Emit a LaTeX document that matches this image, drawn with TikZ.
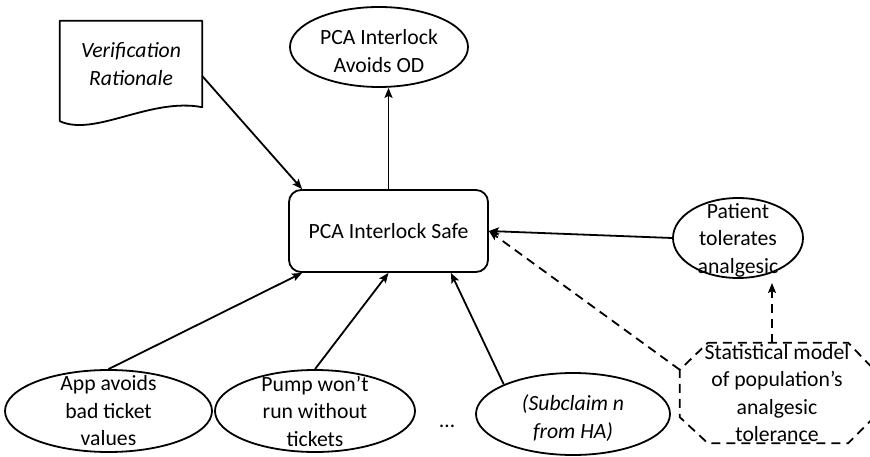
\documentclass[tikz,border=0pt]{standalone}
\usepackage{fontspec}
\setmainfont{Carlito}
\usetikzlibrary{shapes.geometric,arrows.meta}

\tikzset{
  base/.style={line width=1.8pt, line join=round},
  txt/.style={font=\fontsize{21.7}{27.5}\selectfont, align=center, inner sep=0pt},
  ell/.style={base, draw, ellipse, inner sep=0pt},
  claimbox/.style={base, draw, rounded corners=12pt, inner sep=0pt},
  arr/.style={base, -{Stealth[length=10pt,width=8pt,inset=2pt]}},
  dasharr/.style={arr, dash pattern=on 9pt off 6pt},
}

\begin{document}
\begin{tikzpicture}[x=1pt, y=-1pt]
  \useasboundingbox (0,0) rectangle (870,457);
  \clip (0,0) rectangle (870,457);

  % central claim
  \node[claimbox, txt, minimum width=199pt, minimum height=82pt] (safe) at (388.5,231) {PCA Interlock Safe};

  % top goal
  \node[ell, minimum width=178pt, minimum height=80pt,
        label={[txt, yshift=-4pt]center:PCA Interlock\\Avoids OD}] (od) at (379,47) {};

  % document: verification rationale
  \node[txt, font=\fontsize{21.7}{27.5}\selectfont\itshape, minimum width=142pt, minimum height=86pt] (vr) at (131,64) {Verification\\Rationale};
  \draw[base] (vr.north west) -- (vr.north east) -- (vr.south east)
    .. controls ([xshift=-52pt,yshift=10pt]vr.south east) and ([xshift=35pt,yshift=-30pt]vr.south west) ..
    ([yshift=-14pt]vr.south west) -- cycle;

  % patient assumption
  \node[ell, minimum width=130pt, minimum height=80pt,
        label={[txt, yshift=-2pt]center:Patient\\tolerates\\analgesic}] (pat) at (738,238) {};

  % statistical model (dashed octagon)
  \node[txt, minimum width=194pt, minimum height=100pt] (stat) at (777,393)
    {Statistical model\\of population’s\\analgesic\\tolerance};
  \draw[base, dash pattern=on 9pt off 6pt]
    ([xshift=28pt]stat.north west) -- ([xshift=-26pt]stat.north east) --
    ([yshift=-27pt]stat.north east) -- ([yshift=26pt]stat.south east) --
    ([xshift=-26pt]stat.south east) -- ([xshift=28pt]stat.south west) --
    ([yshift=26pt]stat.south west) -- ([yshift=-27pt]stat.north west) -- cycle;

  % subclaims
  \node[ell, minimum width=207pt, minimum height=82pt,
        label={[txt]center:App avoids\\bad ticket\\values}] (app) at (108.5,411) {};
  \node[ell, minimum width=200pt, minimum height=82pt,
        label={[txt]center:Pump won’t\\run without\\tickets}] (pump) at (315,411) {};
  \node[txt, anchor=base] (dots) at (447,427) {…};
  \node[ell, minimum width=194pt, minimum height=82pt,
        label={[txt, yshift=-4pt, font=\fontsize{21.7}{27.5}\selectfont\itshape]center:(Subclaim n\\from HA)}] (sub) at (573,414) {};

  % connectors
  \draw[arr] (safe.north) -- (safe.north |- od.south);
  \draw[arr] ([yshift=-12pt]vr.east) -- ([xshift=14pt]safe.north west);
  \draw[arr] (pat.west) -- (safe.east);
  \draw[dasharr] ([yshift=-27pt]stat.north west) -- (safe.east);
  \coordinate (statTop) at ([xshift=-5pt]stat.north);
  \coordinate (patFoot) at (772,283);
  \draw[dasharr] (statTop) -- (patFoot);
  \draw[arr] (app.north) -- ([xshift=14pt]safe.south west);
  \draw[arr] (pump.north) -- (safe.south);
  \draw[arr] (sub.north west) -- ([xshift=-38pt]safe.south east);
\end{tikzpicture}
\end{document}
